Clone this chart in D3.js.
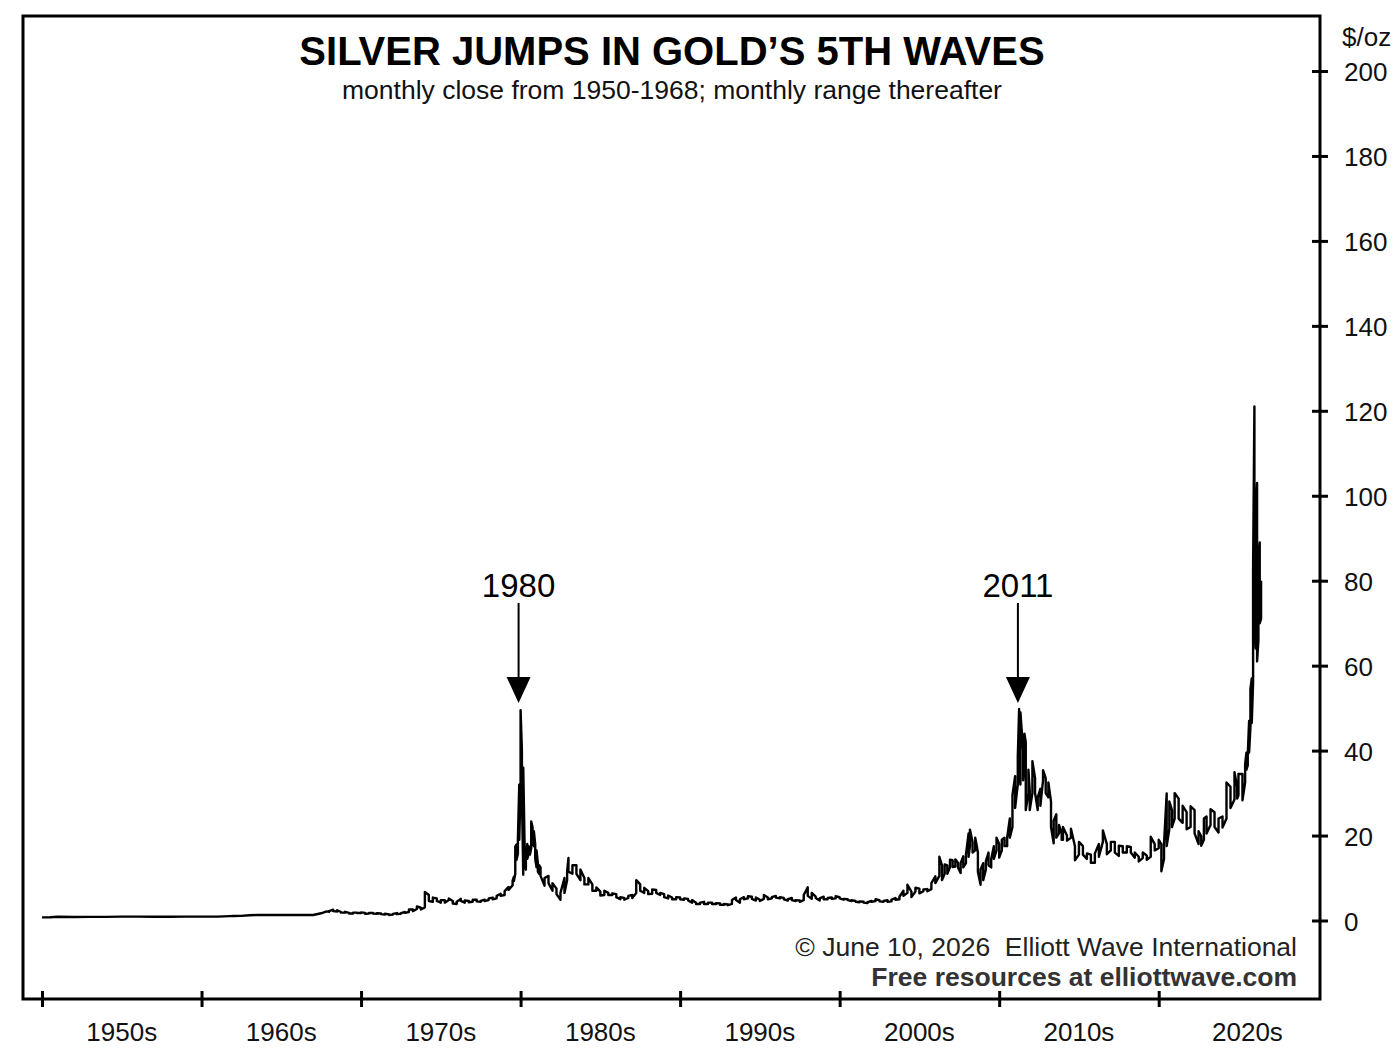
<!DOCTYPE html>
<html lang="en">
<head>
<meta charset="UTF-8">
<title>Silver Jumps in Gold's 5th Waves</title>
<script src="https://cdn.jsdelivr.net/npm/d3@7"></script>
<style>
    body { margin: 0; background: #fff; }
    svg { display: block; font-family: "Liberation Sans", Arial, sans-serif; }
    .frame { fill: none; stroke: #000; stroke-width: 3; }
    .tick line { stroke: #000; stroke-width: 3; }
    .ylab, .xlab { font-size: 26px; fill: #111; }
    .price { fill: none; stroke: #000; stroke-width: 2.4; stroke-linejoin: round; }
</style>
</head>
<body>
<svg id="fig" width="1400" height="1057"></svg>
<script>
// monthly close 1950-1968 (decimal year, $/oz)
let closeDate  = [1950, 1950.5, 1951, 1952, 1953, 1954, 1955, 1956, 1957, 1958, 1959, 1960, 1961, 1961.75, 1962, 1962.5, 1963, 1963.5, 1964, 1965, 1966, 1967, 1967.5, 1967.75, 1968]
let closeValue = [0.74, 0.76, 0.89, 0.84, 0.85, 0.85, 0.91, 0.91, 0.90, 0.89, 0.91, 0.91, 0.92, 1.02, 1.05, 1.10, 1.22, 1.29, 1.29, 1.29, 1.29, 1.29, 1.70, 2.05, 2.15]

// monthly range 1968 onward (sampled: quarterly in quiet stretches, monthly at the peaks)
let rangeDate = [
    1968.00, 1968.25, 1968.50, 1968.75, 1969.00, 1969.25, 1969.50, 1969.75,
    1970.00, 1970.25, 1970.50, 1970.75, 1971.00, 1971.25, 1971.50, 1971.75,
    1972.00, 1972.25, 1972.50, 1972.75, 1973.00, 1973.25, 1973.50, 1973.75,
    1974.00, 1974.25, 1974.50, 1974.75, 1975.00, 1975.25, 1975.50, 1975.75,
    1976.00, 1976.25, 1976.50, 1976.75, 1977.00, 1977.25, 1977.50, 1977.75,
    1978.00, 1978.25, 1978.50, 1978.75, 1979.00, 1979.25,
    1979.500, 1979.583, 1979.667, 1979.750, 1979.833, 1979.917,
    1980.000, 1980.083, 1980.167, 1980.250, 1980.333, 1980.417, 1980.500, 1980.583, 1980.667, 1980.750, 1980.833, 1980.917,
    1981.000, 1981.083, 1981.167, 1981.25, 1981.50, 1981.75,
    1982.00, 1982.25, 1982.50, 1982.75, 1982.917, 1983.00, 1983.25, 1983.50, 1983.75,
    1984.00, 1984.25, 1984.50, 1984.75, 1985.00, 1985.25, 1985.50, 1985.75,
    1986.00, 1986.25, 1986.50, 1986.75, 1987.00, 1987.25, 1987.50, 1987.75,
    1988.00, 1988.25, 1988.50, 1988.75, 1989.00, 1989.25, 1989.50, 1989.75,
    1990.00, 1990.25, 1990.50, 1990.75, 1991.00, 1991.25, 1991.50, 1991.75,
    1992.00, 1992.25, 1992.50, 1992.75, 1993.00, 1993.25, 1993.50, 1993.75,
    1994.00, 1994.25, 1994.50, 1994.75, 1995.00, 1995.25, 1995.50, 1995.75,
    1996.00, 1996.25, 1996.50, 1996.75, 1997.00, 1997.25, 1997.50, 1997.75,
    1998.00, 1998.25, 1998.50, 1998.75, 1999.00, 1999.25, 1999.50, 1999.75,
    2000.00, 2000.25, 2000.50, 2000.75, 2001.00, 2001.25, 2001.50, 2001.75,
    2002.00, 2002.25, 2002.50, 2002.75, 2003.00, 2003.25, 2003.50, 2003.75,
    2004.00, 2004.25, 2004.50, 2004.75, 2005.00, 2005.25, 2005.50, 2005.75,
    2006.00, 2006.25, 2006.417, 2006.583, 2006.75, 2006.917,
    2007.083, 2007.25, 2007.417, 2007.583, 2007.75, 2007.917,
    2008.083, 2008.167, 2008.333, 2008.5, 2008.667, 2008.833,
    2009.0, 2009.167, 2009.333, 2009.5, 2009.667, 2009.833,
    2010.0, 2010.167, 2010.333, 2010.5, 2010.667, 2010.833,
    2011.0, 2011.167, 2011.25, 2011.333, 2011.5, 2011.583, 2011.667, 2011.833, 2011.917,
    2012.083, 2012.25, 2012.417, 2012.583, 2012.75, 2012.917,
    2013.083, 2013.25, 2013.417, 2013.583, 2013.75, 2013.917,
    2014.00, 2014.25, 2014.50, 2014.75, 2015.00, 2015.25, 2015.50, 2015.75,
    2016.00, 2016.25, 2016.50, 2016.75, 2017.00, 2017.25, 2017.50, 2017.75,
    2018.00, 2018.25, 2018.50, 2018.75, 2019.00, 2019.25, 2019.50, 2019.75,
    2020.00, 2020.167, 2020.333, 2020.5, 2020.667, 2020.833,
    2021.00, 2021.25, 2021.50, 2021.75, 2022.00, 2022.25, 2022.50, 2022.667, 2022.833,
    2023.00, 2023.25, 2023.50, 2023.75, 2024.00, 2024.25, 2024.50, 2024.75, 2024.917,
    2025.00, 2025.25, 2025.417,
    2025.500, 2025.583, 2025.667, 2025.750, 2025.833, 2025.917,
    2026.000, 2026.083, 2026.167, 2026.250, 2026.333, 2026.417
]
let rangeLow = [
    2.05, 2.25, 2.10, 1.85, 1.85, 1.65, 1.65, 1.75,
    1.75, 1.60, 1.65, 1.65, 1.55, 1.50, 1.40, 1.30,
    1.40, 1.50, 1.60, 1.80, 2.00, 2.20, 2.70, 2.60,
    3.10, 4.60, 4.40, 4.60, 4.20, 4.20, 4.80, 4.00,
    3.90, 4.60, 4.20, 4.30, 4.40, 4.50, 4.40, 4.60,
    4.80, 5.00, 5.20, 5.80, 6.00, 7.20,
    8.30, 9.30, 11.0, 14.3, 15.8, 19.0,
    31.0, 30.0, 10.8, 13.0, 12.0, 14.5, 15.5, 15.5, 17.0, 18.5, 17.5, 14.5,
    12.5, 11.5, 11.0, 10.5, 8.2, 8.8,
    7.0, 6.2, 4.9, 6.5, 9.5, 11.5, 11.0, 11.0, 9.5,
    8.5, 8.5, 7.0, 7.0, 5.9, 6.0, 6.0, 6.0,
    5.5, 5.0, 4.9, 5.3, 5.3, 6.5, 7.0, 6.5,
    6.2, 6.3, 6.5, 6.0, 5.5, 5.2, 5.0, 5.0,
    5.0, 4.9, 4.7, 4.2, 3.9, 3.9, 3.9, 3.9,
    3.9, 3.9, 3.7, 3.7, 3.6, 3.9, 4.8, 4.2,
    5.0, 5.2, 5.1, 4.7, 4.6, 5.1, 5.0, 5.2,
    5.4, 5.2, 5.0, 4.7, 4.8, 4.6, 4.4, 4.8,
    5.8, 5.1, 5.3, 4.7, 5.0, 5.0, 5.1, 5.2,
    5.2, 4.9, 4.8, 4.6, 4.4, 4.3, 4.2, 4.1,
    4.4, 4.6, 4.5, 4.4, 4.4, 4.5, 4.9, 5.0,
    5.8, 6.5, 5.5, 6.8, 6.4, 6.9, 6.9, 7.4,
    8.8, 10.5, 9.5, 11.0, 11.0, 12.5,
    12.6, 12.7, 12.5, 11.2, 12.5, 13.5,
    15.0, 17.5, 16.0, 16.5, 11.5, 8.4,
    9.5, 12.0, 13.0, 12.5, 14.5, 16.5,
    14.8, 16.5, 17.5, 17.5, 19.5, 22.0,
    26.5, 32.0, 36.0, 32.0, 33.0, 37.5, 26.0, 30.0, 26.0,
    30.0, 30.0, 26.0, 27.0, 33.0, 30.0,
    29.0, 22.0, 18.2, 19.5, 20.5, 19.0,
    19.0, 18.8, 19.5, 14.2, 15.5, 15.5, 14.5, 13.6,
    13.6, 15.0, 18.5, 15.6, 16.5, 16.0, 15.2, 16.0,
    16.0, 16.0, 14.8, 13.9, 14.7, 14.3, 15.0, 16.5,
    17.0, 11.6, 14.5, 17.5, 21.5, 22.0,
    24.0, 24.0, 23.0, 21.5, 22.0, 20.5, 18.0, 17.6, 19.0,
    20.5, 22.5, 22.0, 20.7, 21.9, 24.0, 26.5, 28.5, 28.7,
    29.5, 28.3, 32.5,
    35.5, 36.5, 39.5, 45.5, 46.5, 56.0,
    70.0, 64.0, 61.0, 66.0, 70.0, 71.0
]
let rangeHigh = [
    2.20, 2.56, 2.40, 2.00, 2.05, 1.80, 1.85, 1.85,
    1.90, 1.80, 1.80, 1.75, 1.70, 1.65, 1.60, 1.45,
    1.55, 1.75, 1.75, 2.00, 2.60, 2.60, 3.30, 3.00,
    6.70, 6.00, 5.40, 5.20, 4.80, 4.80, 5.20, 4.60,
    4.40, 5.10, 4.70, 4.60, 4.90, 4.90, 4.60, 4.90,
    5.20, 5.40, 5.80, 6.30, 6.90, 7.90,
    9.40, 10.3, 17.4, 17.9, 19.4, 32.0,
    49.5, 40.0, 36.0, 18.0, 15.0, 18.0, 17.5, 17.0, 23.3, 22.0, 21.0, 18.0,
    16.5, 13.5, 13.0, 12.5, 10.0, 10.5,
    8.8, 7.5, 6.5, 10.0, 11.5, 14.7, 13.0, 13.0, 12.0,
    10.0, 10.0, 8.5, 7.8, 6.8, 7.0, 6.5, 6.4,
    6.2, 5.5, 5.3, 5.8, 6.0, 9.5, 8.5, 7.7,
    6.9, 7.3, 7.2, 6.5, 6.2, 5.9, 5.4, 5.5,
    5.4, 5.2, 5.1, 4.8, 4.2, 4.2, 4.4, 4.2,
    4.2, 4.1, 4.0, 3.9, 3.8, 4.8, 5.4, 5.0,
    5.5, 5.7, 5.6, 5.4, 4.9, 6.0, 5.4, 5.5,
    5.8, 5.5, 5.3, 5.0, 5.3, 4.8, 4.7, 6.0,
    7.8, 6.5, 5.6, 5.2, 5.6, 5.3, 5.4, 5.7,
    5.5, 5.1, 5.0, 4.8, 4.6, 4.5, 4.4, 4.3,
    4.6, 5.0, 4.8, 4.6, 4.8, 4.9, 5.3, 5.6,
    7.0, 8.4, 6.8, 7.7, 7.5, 7.3, 7.4, 8.8,
    10.4, 15.0, 13.0, 13.2, 13.0, 14.3,
    14.2, 14.4, 13.6, 13.5, 15.1, 15.5,
    20.5, 21.4, 18.5, 19.5, 16.0, 12.0,
    13.5, 14.0, 16.0, 14.5, 17.5, 19.5,
    18.0, 19.0, 19.5, 19.5, 24.0, 29.5,
    34.0, 38.5, 49.8, 49.0, 40.0, 44.0, 42.0, 35.5, 30.5,
    37.5, 33.5, 29.0, 31.0, 35.4, 33.5,
    32.5, 28.0, 23.5, 25.0, 22.5, 20.5,
    22.0, 20.0, 21.6, 17.5, 18.5, 17.5, 15.8, 15.5,
    15.8, 18.0, 21.2, 18.0, 18.5, 18.5, 17.6, 17.5,
    17.5, 17.3, 16.0, 15.0, 16.0, 15.3, 19.7, 18.0,
    19.0, 18.0, 18.0, 29.9, 28.0, 26.0,
    30.0, 28.7, 27.0, 25.5, 26.9, 26.0, 21.0, 19.8, 24.0,
    24.5, 26.2, 25.5, 24.0, 24.5, 32.5, 31.5, 34.9, 31.5,
    34.5, 34.5, 36.8,
    39.5, 39.0, 47.0, 54.5, 57.0, 83.5,
    121.0, 95.0, 103.0, 84.0, 89.0, 80.0
]

let decades = [1950, 1960, 1970, 1980, 1990, 2000, 2010, 2020]
let decadeLabels = ['1950s', '1960s', '1970s', '1980s', '1990s', '2000s', '2010s', '2020s']
let yTicks = [0, 20, 40, 60, 80, 100, 120, 140, 160, 180, 200]
let peakYears = [1980.0, 2011.3]
let peakLabels = ['1980', '2011']

let svg = d3.select('#fig')

// plot frame
let frameL = 23, frameR = 1320, frameT = 16, frameB = 999

let x = d3.scaleLinear().domain([1950, 2020]).range([42, 1158.7])
let y = d3.scaleLinear().domain([0, 200]).range([920.5, 71])

svg.append('rect')
    .attr('class', 'frame')
    .attr('x', frameL).attr('y', frameT)
    .attr('width', frameR - frameL).attr('height', frameB - frameT)

// x axis: ticks crossing the bottom edge, labels between ticks
let xAxis = svg.append('g')
    .attr('transform', `translate(0,${frameB})`)
    .call(d3.axisBottom(x).tickValues(decades).tickSize(8).tickFormat(''))
xAxis.select('.domain').remove()
xAxis.selectAll('.tick line').attr('y1', -8).attr('y2', 8)

svg.selectAll('text.xlab')
    .data(decades)
    .join('text')
    .attr('class', 'xlab')
    .attr('x', (d, i) => i === decades.length - 1 ? x(d + 5) + 9 : x(d + 5))
    .attr('y', 1041)
    .attr('text-anchor', 'middle')
    .text((d, i) => decadeLabels[i])

// y axis on the right
let yAxis = svg.append('g')
    .attr('transform', `translate(${frameR},0)`)
    .call(d3.axisRight(y).tickValues(yTicks).tickSize(8).tickFormat(''))
yAxis.select('.domain').remove()
yAxis.selectAll('.tick line').attr('x1', -8).attr('x2', 8)

svg.selectAll('text.ylab')
    .data(yTicks)
    .join('text')
    .attr('class', 'ylab')
    .attr('x', 1344)
    .attr('y', d => y(d) + 10)
    .text(d => d)

svg.append('text')
    .attr('class', 'ylab')
    .attr('x', 1342).attr('y', 46)
    .text('$/oz')

// titles
svg.append('text')
    .attr('x', 672).attr('y', 65)
    .attr('text-anchor', 'middle')
    .style('font-size', '40px').style('font-weight', 'bold')
    .text('SILVER JUMPS IN GOLD\u2019S 5TH WAVES')
svg.append('text')
    .attr('x', 672).attr('y', 99)
    .attr('text-anchor', 'middle')
    .style('font-size', '26.5px').style('fill', '#111')
    .text('monthly close from 1950-1968; monthly range thereafter')

// price line
let line = d3.line().x(d => x(d[0])).y(d => y(d[1]))

let closePts = closeDate.map((d, i) => [d, closeValue[i]])
svg.append('path')
    .attr('class', 'price')
    .attr('d', line(closePts))

let rangePts = []
rangeDate.forEach(function (d, i) {
    if (i % 2 === 0) {
        rangePts.push([d, rangeLow[i]], [d, rangeHigh[i]])
    } else {
        rangePts.push([d, rangeHigh[i]], [d, rangeLow[i]])
    }
})
svg.append('path')
    .attr('class', 'price')
    .attr('d', line([[closeDate[closeDate.length - 1], closeValue[closeValue.length - 1]]].concat(rangePts)))

// peak arrows
peakYears.forEach(function (p, i) {
    svg.append('text')
        .attr('x', x(p) - 2).attr('y', 597)
        .attr('text-anchor', 'middle')
        .style('font-size', '33px')
        .text(peakLabels[i])
    svg.append('line')
        .attr('x1', x(p) - 2).attr('x2', x(p) - 2)
        .attr('y1', 603).attr('y2', 678)
        .attr('stroke', '#000').attr('stroke-width', 2)
    svg.append('path')
        .attr('d', `M${x(p) - 14},677 L${x(p) + 10},677 L${x(p) - 2},703 Z`)
        .attr('fill', '#000')
})

// credits
svg.append('text')
    .attr('x', 1297).attr('y', 956)
    .attr('text-anchor', 'end')
    .style('font-size', '26.5px').style('fill', '#222')
    .text('\u00A9 June 10, 2026\u00A0\u00A0Elliott Wave International')
svg.append('text')
    .attr('x', 1297).attr('y', 986)
    .attr('text-anchor', 'end')
    .style('font-size', '26.5px').style('font-weight', 'bold').style('fill', '#333')
    .text('Free resources at elliottwave.com')
</script>
</body>
</html>
